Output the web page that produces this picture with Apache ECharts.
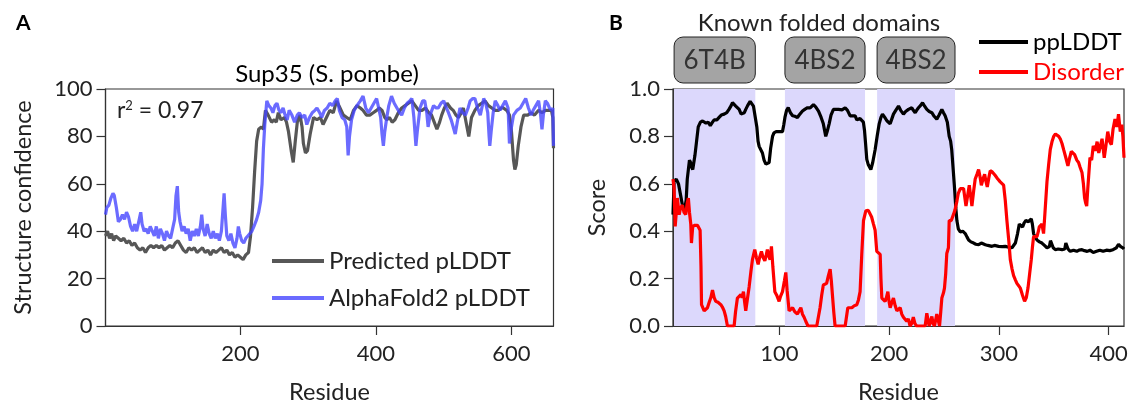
<!DOCTYPE html>
<html><head><meta charset="utf-8">
<script src="https://cdn.jsdelivr.net/npm/echarts@6/dist/echarts.min.js"></script>
<style>html,body{margin:0;padding:0;background:#fff}#c{width:1131px;height:409px}</style>
</head><body><div id="c"></div>
<script>
// ---------- Panel A data (residue, value) ----------
const predictedPLDDT = [[1,38],[4,40],[7,37],[10,39],[13,36],[16,38],[20,37],[24,36],[28,37],[32,35],[36,36],[40,34],[44,35],[48,33],[52,32],[56,33],[60,31],[64,33],[68,34],[72,33],[76,34],[80,33],[84,34],[88,32],[92,33],[96,34],[100,33],[104,35],[108,36],[112,34],[116,32],[120,31],[124,33],[128,32],[132,33],[136,31],[140,32],[144,33],[148,31],[152,32],[156,30],[160,32],[164,31],[168,32],[172,33],[176,31],[180,32],[184,30],[188,31],[192,29],[196,30],[200,29],[204,28],[208,30],[212,31],[215,38],[218,50],[221,65],[224,78],[227,83],[231,84],[234,83],[237,91],[241,89],[246,86],[250,87],[253,86],[256,90],[260,87],[265,88],[268,86],[271,82],[275,74],[278,69],[281,78],[284,86],[288,89],[291,84],[293,77],[296,73],[299,74],[303,81],[308,88],[313,87],[318,88],[322,85],[327,88],[332,91],[337,90],[342,95],[347,92],[352,89],[357,88],[362,87],[367,91],[372,93],[377,92],[381,91],[386,89],[391,89],[396,90],[401,91],[405,92],[409,91],[413,88],[416,87],[420,88],[424,86],[428,87],[433,90],[438,92],[443,93],[448,94],[453,95],[458,93],[463,91],[468,91],[473,92],[478,90],[482,89],[486,86],[490,83],[494,86],[497,89],[501,92],[505,94],[510,92],[514,91],[518,89],[522,88],[526,90],[529,92],[533,86],[537,80],[541,88],[546,91],[551,93],[556,94],[561,95],[566,93],[571,92],[576,91],[581,91],[585,92],[588,92],[593,91],[597,89],[600,82],[603,70],[605,66],[607,68],[610,76],[614,84],[618,89],[624,89],[629,90],[634,89],[640,91],[645,90],[650,91],[655,91],[659,91],[661,88],[662,75]];
const alphafoldPLDDT = [[1,47],[3,50],[6,51],[9,54],[12,56],[14,55],[17,50],[20,44],[23,45],[26,47],[29,45],[32,48],[35,46],[38,42],[41,40],[44,43],[47,40],[50,44],[53,48],[55,43],[58,40],[61,41],[64,39],[67,42],[70,40],[73,38],[76,42],[79,37],[82,41],[85,39],[88,36],[91,40],[94,38],[97,37],[100,41],[103,45],[105,55],[107,59],[109,48],[111,44],[114,40],[117,42],[120,39],[123,41],[126,36],[129,40],[132,38],[135,41],[138,38],[141,42],[143,47],[145,41],[148,38],[151,43],[154,39],[157,37],[160,40],[163,37],[166,39],[169,36],[172,40],[175,52],[176,56],[178,46],[180,38],[183,36],[186,39],[189,35],[192,33],[195,37],[197,42],[199,39],[202,36],[205,35],[208,37],[211,38],[214,39],[217,40],[220,42],[224,45],[227,48],[230,53],[232,60],[234,75],[236,85],[239,95],[242,93],[245,92],[248,90],[251,93],[254,94],[257,91],[260,90],[263,92],[266,89],[269,87],[272,91],[276,89],[280,86],[284,89],[287,90],[291,88],[295,89],[298,85],[302,88],[306,90],[310,91],[313,92],[317,90],[320,88],[324,91],[328,92],[332,94],[336,93],[340,95],[343,96],[346,91],[350,88],[354,87],[357,84],[359,72],[361,80],[364,87],[368,91],[372,93],[377,95],[381,97],[385,92],[389,90],[393,92],[397,94],[401,96],[404,92],[407,88],[409,81],[411,76],[413,82],[416,88],[419,93],[423,97],[427,94],[431,92],[435,90],[438,89],[442,92],[446,94],[450,95],[453,96],[456,88],[459,76],[461,82],[465,92],[469,95],[472,95],[475,90],[477,84],[480,89],[485,93],[489,92],[492,92],[496,94],[500,95],[504,92],[507,90],[511,87],[515,83],[517,81],[520,86],[524,92],[528,90],[532,89],[536,92],[539,95],[543,96],[546,96],[550,92],[554,89],[557,93],[559,96],[562,94],[565,90],[567,80],[568,76],[570,82],[573,90],[576,95],[580,93],[583,91],[587,93],[591,95],[595,92],[597,77],[600,84],[603,89],[608,91],[613,92],[617,94],[621,96],[625,92],[629,89],[632,91],[636,93],[640,95],[643,89],[645,83],[647,89],[650,95],[653,94],[656,92],[659,91],[661,92],[662,76]];
const ticksA_x = [200, 400, 600];

// ---------- Panel B data (residue, value) ----------
const ppLDDT = [[3,0.47],[4,0.61],[6,0.62],[8,0.60],[10,0.55],[12,0.50],[13.5,0.49],[15,0.53],[16,0.62],[17,0.66],[18,0.70],[19,0.69],[20,0.67],[21,0.66],[23,0.72],[24.5,0.78],[26,0.84],[28,0.86],[30,0.865],[33,0.856],[35,0.86],[37,0.846],[39,0.86],[40.5,0.87],[43,0.87],[45,0.88],[47,0.89],[49.6,0.894],[52,0.90],[54,0.914],[56,0.93],[57.2,0.942],[59,0.935],[60.2,0.928],[62,0.92],[63.3,0.914],[65,0.895],[66.3,0.887],[68,0.90],[69.3,0.914],[71,0.93],[73.3,0.948],[75,0.94],[76.3,0.928],[78,0.88],[79.4,0.84],[80.5,0.78],[81.5,0.758],[83,0.75],[84.5,0.73],[86,0.70],[87.6,0.683],[89,0.685],[90.6,0.69],[92,0.75],[93.7,0.80],[95,0.815],[97,0.82],[100,0.82],[102.8,0.82],[104,0.85],[105,0.88],[106.5,0.91],[108,0.921],[110,0.90],[112,0.887],[114,0.885],[116.4,0.88],[118,0.89],[121,0.907],[123.4,0.915],[125.6,0.921],[128,0.92],[131,0.934],[133,0.925],[135.6,0.907],[138,0.88],[140,0.853],[142.2,0.80],[143.5,0.82],[145.3,0.853],[147,0.89],[149.2,0.914],[151,0.91],[153.8,0.914],[157,0.912],[159.9,0.921],[162,0.91],[164.4,0.887],[166,0.885],[169,0.887],[170.5,0.87],[172,0.866],[173.5,0.875],[175,0.88],[176.5,0.86],[177.5,0.826],[178.5,0.77],[179.6,0.703],[181,0.68],[183.3,0.66],[185,0.69],[187.2,0.744],[189,0.80],[190.9,0.853],[192.5,0.88],[193.9,0.894],[196,0.88],[197.9,0.866],[199.5,0.86],[200.9,0.853],[202.5,0.875],[203.9,0.894],[206,0.91],[208.5,0.928],[210.5,0.91],[213,0.894],[215,0.905],[217.6,0.914],[220.6,0.921],[222,0.91],[223.7,0.90],[225,0.91],[226.7,0.921],[228.5,0.93],[230.4,0.942],[232,0.93],[234.3,0.914],[236.5,0.905],[238.9,0.90],[241,0.885],[243.4,0.873],[245.5,0.89],[248,0.914],[249.5,0.90],[251,0.887],[253,0.86],[254.7,0.80],[256,0.78],[257,0.744],[258.5,0.65],[259.6,0.58],[260.7,0.50],[261.7,0.445],[263,0.41],[264.8,0.397],[267,0.40],[269.3,0.39],[271,0.375],[272.4,0.363],[274.5,0.355],[277,0.35],[279,0.345],[281.5,0.343],[284,0.35],[287.6,0.343],[290,0.34],[293.6,0.336],[296,0.34],[299.7,0.336],[303,0.335],[305.8,0.336],[309,0.332],[311.9,0.33],[313.5,0.335],[315,0.35],[317,0.39],[318.6,0.43],[320,0.425],[321.6,0.418],[323,0.435],[324.6,0.445],[327,0.44],[329.5,0.452],[330.5,0.43],[331.6,0.39],[333,0.375],[334.7,0.363],[337,0.355],[339.2,0.35],[341.5,0.34],[343.8,0.33],[346,0.335],[347,0.36],[348.3,0.357],[349.5,0.33],[351.4,0.322],[354,0.325],[357.5,0.322],[360,0.325],[361,0.35],[362,0.357],[363,0.325],[365,0.315],[368,0.32],[371,0.315],[373,0.32],[375.7,0.322],[378,0.318],[380.5,0.315],[383,0.32],[386,0.31],[389,0.315],[392,0.32],[395,0.315],[398,0.32],[401,0.318],[404,0.322],[407,0.33],[409,0.345],[411,0.335],[413,0.33],[414,0.325]];
const disorder = [[3,0.62],[4,0.58],[5,0.42],[6,0.48],[7,0.54],[8.6,0.47],[10,0.50],[11.6,0.51],[13,0.48],[14.6,0.47],[16,0.52],[17,0.54],[18,0.48],[19.2,0.43],[19.8,0.35],[21,0.42],[23,0.425],[25.3,0.425],[27.7,0.404],[28.5,0.25],[29,0.09],[31.4,0.064],[33,0.07],[34.4,0.077],[36,0.10],[37.5,0.12],[39,0.152],[40.5,0.12],[42,0.104],[44,0.10],[46.6,0.09],[48,0.08],[49.6,0.064],[51,0.04],[52.6,0],[55,0],[58.7,0],[60,0.06],[61.7,0.118],[63,0.125],[64.8,0.132],[66,0.12],[67.2,0.145],[68.3,0.10],[69.3,0.064],[71,0.12],[72.4,0.166],[74,0.23],[75.4,0.28],[77.5,0.322],[79,0.29],[80.6,0.26],[82,0.29],[83.6,0.315],[85,0.29],[86.7,0.275],[88,0.30],[89,0.322],[90.3,0.295],[91.5,0.28],[92.7,0.336],[94,0.25],[95.8,0.145],[97.5,0.13],[99.7,0.104],[101,0.125],[102.8,0.145],[104.5,0.19],[105.8,0.226],[107,0.15],[108.8,0.064],[110.5,0.07],[112,0.077],[114,0.06],[116.4,0.05],[118,0.065],[119.5,0.077],[121,0.05],[122.5,0.037],[124,0.02],[126,0],[130,0],[134,0],[137,0.077],[138.5,0.13],[140,0.173],[143,0.18],[144.5,0.21],[146.2,0.24],[147.3,0.19],[148.3,0.13],[149.5,0.06],[150.7,0],[155,0],[159.9,0],[162.3,0.077],[164,0.08],[166,0.077],[168,0.085],[170.5,0.09],[172,0.11],[173.5,0.145],[175,0.30],[176.6,0.445],[178.7,0.486],[181,0.488],[182.7,0.486],[184,0.46],[185.7,0.43],[187.2,0.404],[188.7,0.315],[190,0.31],[191.8,0.302],[192.5,0.20],[193.3,0.118],[195,0.11],[196.3,0.104],[197.5,0.12],[198.8,0.145],[200,0.10],[200.9,0.077],[202.5,0.10],[203.9,0.118],[205.5,0.085],[207,0.064],[208.5,0.07],[210,0.077],[211.5,0.05],[213,0.037],[214.5,0.03],[216,0.02],[217.5,0.03],[219,0],[220.5,0.01],[222,0.037],[223.5,0.01],[225,0],[229,0],[232.8,0],[234.3,0.054],[236.4,0],[237.7,0.02],[238.9,0.04],[240,0.01],[241.3,0],[243.4,0.05],[245.9,0],[247,0.06],[248,0.118],[249.5,0.14],[250.4,0.16],[251.5,0.22],[252.5,0.306],[254,0.33],[254.7,0.445],[256.6,0.445],[258.7,0.472],[260,0.49],[261.7,0.526],[263,0.56],[264.8,0.58],[266.3,0.585],[267.8,0.58],[269,0.54],[270,0.506],[271.5,0.55],[273,0.594],[274.2,0.55],[275.4,0.506],[277,0.57],[278.4,0.62],[280,0.64],[281.5,0.66],[282.8,0.63],[284,0.594],[285.5,0.62],[287,0.64],[288.2,0.61],[289.4,0.587],[290.8,0.625],[292.1,0.655],[294,0.65],[296.7,0.635],[299,0.62],[301.2,0.608],[304.3,0.594],[305.8,0.53],[307.3,0.445],[309,0.36],[310.4,0.28],[312,0.24],[313.4,0.213],[315,0.195],[316.4,0.18],[318,0.17],[319.5,0.16],[321.5,0.13],[323.4,0.104],[325,0.12],[326.5,0.16],[328,0.22],[329.5,0.28],[330.5,0.33],[331.6,0.377],[333,0.38],[334.7,0.377],[336,0.40],[336.8,0.418],[338,0.425],[339.2,0.43],[340.7,0.39],[342,0.48],[343.8,0.608],[345.3,0.68],[346.8,0.744],[348.5,0.78],[349.9,0.80],[351.5,0.81],[352.9,0.812],[354.5,0.80],[355.9,0.79],[357.5,0.77],[359,0.744],[361,0.71],[362.9,0.676],[364.5,0.71],[366,0.737],[367.5,0.73],[369,0.723],[371,0.70],[372.6,0.69],[374,0.67],[375.7,0.648],[377,0.60],[378.1,0.54],[379,0.52],[380,0.506],[381,0.58],[383,0.71],[384.5,0.70],[386,0.76],[388,0.74],[389.5,0.778],[391,0.73],[392.5,0.76],[394,0.79],[396,0.71],[397.5,0.76],[399.2,0.82],[400.8,0.78],[402.5,0.765],[404,0.83],[405.8,0.873],[407.5,0.84],[409,0.894],[410.6,0.82],[412,0.85],[413,0.80],[414,0.71]];
const domainLabels = ['6T4B', '4BS2', '4BS2'];
const domainStart = [4, 105, 189];
const domainEnd = [78, 178, 260];
const ticksB_x = [100, 200, 300, 400];

const FONT = 'Lato';
const TXT = '#222';
const chart = echarts.init(document.getElementById('c'), null, {renderer: 'canvas'});

function valueAxis(gridIndex, min, max, extra) {
  return Object.assign({
    type: 'value', gridIndex, min, max,
    axisLine: {show: true, lineStyle: {color: '#333', width: 1.2}},
    axisTick: {show: true, length: 9, inside: false, lineStyle: {color: '#333', width: 1.2}},
    axisLabel: {color: TXT, fontSize: 22, fontFamily: FONT, margin: 13},
    splitLine: {show: false},
    nameTextStyle: {color: TXT, fontSize: 23.5, fontFamily: FONT}
  }, extra);
}

const option = {
  animation: false,
  backgroundColor: '#fff',
  textStyle: {fontFamily: FONT},
  title: [
    {text: 'A', left: 11, top: 8, textStyle: {fontSize: 21, fontWeight: 'bold', color: '#000', fontFamily: FONT}},
    {text: 'B', left: 604, top: 8, textStyle: {fontSize: 21, fontWeight: 'bold', color: '#000', fontFamily: FONT}},
    {text: 'Sup35 (S. pombe)', left: 322, top: 57, textAlign: 'center', textStyle: {fontSize: 24, fontWeight: 'normal', color: '#000', fontFamily: FONT}},
    {text: 'r{s|2} = 0.97', left: 112, top: 94, textStyle: {fontSize: 23, fontWeight: 'normal', color: TXT, fontFamily: FONT,
      rich: {s: {fontSize: 13, verticalAlign: 'top', padding: [0, 0, 11, 0], color: TXT, fontFamily: FONT}}}},
    {text: 'Known folded domains', left: 814, top: 6, textAlign: 'center', textStyle: {fontSize: 24, fontWeight: 'normal', color: TXT, fontFamily: FONT}}
  ],
  legend: [
    {
      orient: 'vertical', left: 267, top: 244, itemWidth: 52, itemHeight: 4, icon: 'rect', itemGap: 13,
      textStyle: {fontSize: 24, color: TXT, fontFamily: FONT},
      data: ['Predicted pLDDT', 'AlphaFold2 pLDDT']
    },
    {
      orient: 'vertical', left: 974, top: 25, itemWidth: 49, itemHeight: 4, icon: 'rect', itemGap: 6,
      textStyle: {fontSize: 24, color: '#000', fontFamily: FONT},
      data: [{name: 'ppLDDT'}, {name: 'Disorder', textStyle: {color: '#ff0000'}}]
    }
  ],
  grid: [
    {left: 105.5, top: 89, width: 448, height: 245, show: true, borderColor: '#333', borderWidth: 1.2, backgroundColor: 'transparent'},
    {left: 673, top: 89, width: 451, height: 245, show: true, borderColor: '#333', borderWidth: 1.2, backgroundColor: 'transparent'},
    {left: 673, top: 37, width: 451, height: 46, show: false}
  ],
  xAxis: [
    valueAxis(0, 1, 662, {name: 'Residue', nameLocation: 'middle', nameGap: 54,
      axisLabel: {color: TXT, fontSize: 22, fontFamily: FONT, margin: 17, customValues: ticksA_x},
      axisTick: {show: true, length: 9, lineStyle: {color: '#333', width: 1.2}, customValues: ticksA_x}}),
    valueAxis(1, 3, 414, {name: 'Residue', nameLocation: 'middle', nameGap: 54,
      axisLabel: {color: TXT, fontSize: 22, fontFamily: FONT, margin: 17, customValues: ticksB_x},
      axisTick: {show: true, length: 9, lineStyle: {color: '#333', width: 1.2}, customValues: ticksB_x}}),
    {type: 'value', gridIndex: 2, min: 3, max: 414, show: false}
  ],
  yAxis: [
    valueAxis(0, 0, 100, {interval: 20, name: 'Structure confidence', nameLocation: 'middle', nameGap: 70}),
    valueAxis(1, 0, 1, {interval: 0.2, name: 'Score', nameLocation: 'middle', nameGap: 64,
      axisLabel: {color: TXT, fontSize: 22, fontFamily: FONT, margin: 13, formatter: v => v.toFixed(1)}}),
    {type: 'value', gridIndex: 2, min: 0, max: 1, show: false}
  ],
  series: [
    {
      name: 'Predicted pLDDT', type: 'line', xAxisIndex: 0, yAxisIndex: 0, data: predictedPLDDT,
      showSymbol: false, symbol: 'none', color: '#575757', lineStyle: {color: '#575757', width: 3.2}, z: 2
    },
    {
      name: 'AlphaFold2 pLDDT', type: 'line', xAxisIndex: 0, yAxisIndex: 0, data: alphafoldPLDDT,
      showSymbol: false, symbol: 'none', color: 'rgba(70,70,255,0.8)', lineStyle: {color: 'rgba(70,70,255,0.8)', width: 3.2}, z: 3
    },
    {
      name: 'domains', type: 'line', xAxisIndex: 1, yAxisIndex: 1, data: [], silent: true, z: 1,
      markArea: {
        silent: true,
        itemStyle: {color: '#dcd8fc', opacity: 1},
        data: domainStart.map((s, i) => [{xAxis: s}, {xAxis: domainEnd[i]}])
      }
    },
    {
      name: 'ppLDDT', type: 'line', xAxisIndex: 1, yAxisIndex: 1, data: ppLDDT,
      showSymbol: false, symbol: 'none', color: '#000', lineStyle: {color: '#000', width: 3.2}, z: 3
    },
    {
      name: 'Disorder', type: 'line', xAxisIndex: 1, yAxisIndex: 1, data: disorder,
      showSymbol: false, symbol: 'none', color: '#ff0000', lineStyle: {color: '#ff0000', width: 3.2}, z: 4
    },
    {
      name: 'domainBoxes', type: 'custom', xAxisIndex: 2, yAxisIndex: 2, silent: true,
      data: domainStart.map((s, i) => [s, domainEnd[i]]),
      renderItem: (params, api) => {
        const a = api.coord([api.value(0), 1]);
        const b = api.coord([api.value(1), 0]);
        return {
          type: 'group',
          children: [
            {type: 'rect', shape: {x: a[0], y: a[1], width: b[0] - a[0], height: b[1] - a[1], r: 9},
              style: {fill: '#a4a4a4', stroke: '#222', lineWidth: 1}},
            {type: 'text', style: {text: domainLabels[params.dataIndex], x: (a[0] + b[0]) / 2, y: (a[1] + b[1]) / 2 + 1,
              align: 'center', verticalAlign: 'middle', fontSize: 26, fill: '#333', fontFamily: FONT}}
          ]
        };
      }
    }
  ]
};
chart.setOption(option);
</script>
</body></html>
